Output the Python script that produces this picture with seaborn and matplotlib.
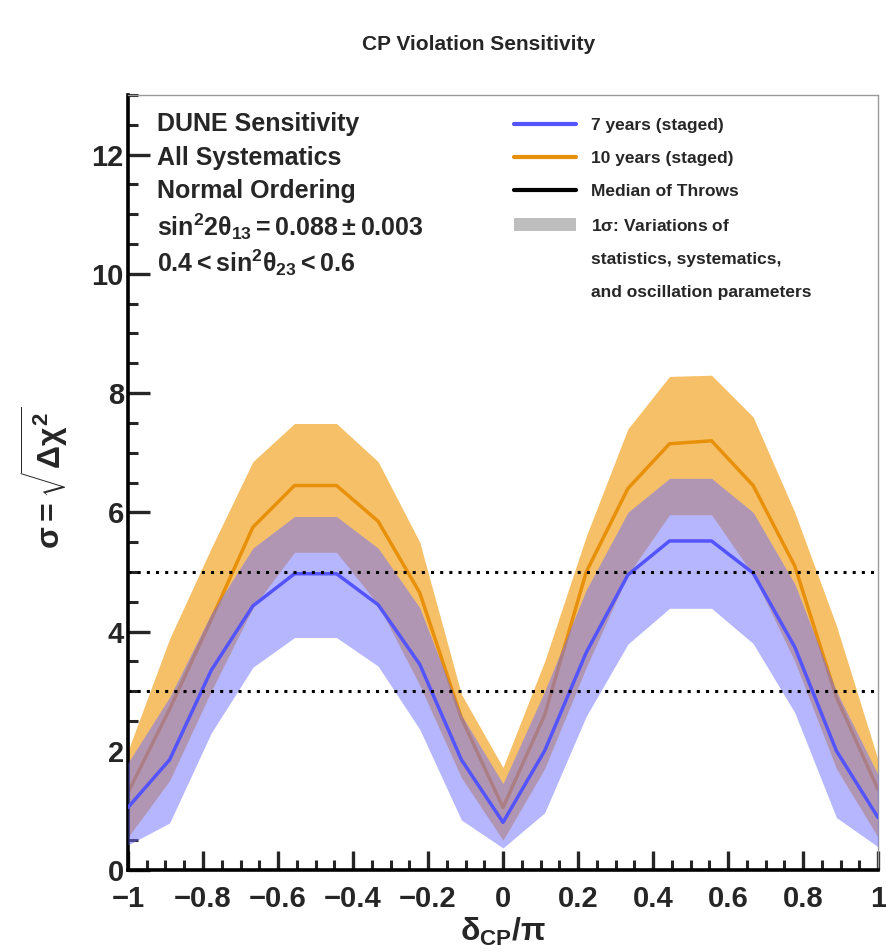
import numpy as np
import pandas as pd
import matplotlib
matplotlib.use('Agg')
import matplotlib.pyplot as plt
import seaborn as sns
from matplotlib.lines import Line2D
from matplotlib.patches import Patch
from matplotlib.ticker import MultipleLocator

# ---------------- data ----------------
delta_cp = [-1.0, -0.889, -0.778, -0.667, -0.556, -0.444, -0.333, -0.222, -0.111, 0.0,
            0.111, 0.222, 0.333, 0.444, 0.556, 0.667, 0.778, 0.889, 1.0]
median_7yr = [1.05, 1.85, 3.35, 4.43, 4.97, 4.97, 4.45, 3.45, 1.85, 0.80,
              2.0, 3.65, 4.95, 5.52, 5.52, 4.98, 3.74, 2.0, 0.88]
low_7yr = [0.42, 0.79, 2.3, 3.4, 3.9, 3.9, 3.42, 2.36, 0.84, 0.37,
           0.96, 2.58, 3.79, 4.39, 4.39, 3.8, 2.64, 0.88, 0.39]
high_7yr = [1.8, 2.9, 4.3, 5.4, 5.93, 5.93, 5.4, 4.4, 2.6, 1.45,
            3.0, 4.7, 6.0, 6.57, 6.57, 6.0, 4.8, 3.0, 1.6]
median_10yr = [1.3, 2.7, 4.2, 5.75, 6.45, 6.45, 5.85, 4.65, 2.55, 1.05,
               2.6, 5.0, 6.4, 7.15, 7.2, 6.45, 5.1, 2.9, 1.35]
low_10yr = [0.55, 1.5, 3.0, 4.4, 5.33, 5.33, 4.45, 3.1, 1.55, 0.5,
            1.7, 3.4, 4.95, 5.96, 5.96, 4.95, 3.5, 1.7, 0.55]
high_10yr = [2.0, 3.88, 5.4, 6.85, 7.49, 7.49, 6.85, 5.5, 2.95, 1.72,
             3.5, 5.6, 7.4, 8.28, 8.3, 7.6, 6.0, 4.1, 1.85]
sigma_levels = [3, 5]

series_labels = ['7 years (staged)', '10 years (staged)']
legend_labels = ['7 years (staged)', '10 years (staged)', 'Median of Throws',
                 r'1$\sigma$: Variations of', 'statistics, systematics,',
                 'and oscillation parameters']
info_lines = ['DUNE Sensitivity', 'All Systematics', 'Normal Ordering',
              r'$\sin^{2}\!2\theta_{13} = 0.088 \pm 0.003$',
              r'$0.4 < \sin^{2}\!\theta_{23} < 0.6$']

# ---------------- style ----------------
sns.set_style('ticks')
plt.rcParams['font.family'] = ['Liberation Sans', 'DejaVu Sans']
plt.rcParams['font.weight'] = 'bold'
plt.rcParams['mathtext.fontset'] = 'custom'
plt.rcParams['mathtext.rm'] = 'Liberation Sans:bold'
plt.rcParams['mathtext.it'] = 'Liberation Sans:bold'
plt.rcParams['mathtext.bf'] = 'Liberation Sans:bold'
plt.rcParams['mathtext.sf'] = 'Liberation Sans:bold'

blue_line = '#5454FF'
blue_band = '#6E6EFF'
orange_line = '#E8900A'
orange_band = '#F6C068'

fig = plt.figure(figsize=(8.87, 9.52), dpi=100)
ax = fig.add_axes([0.1443, 0.0861, 0.8456, 0.8141])

df = pd.DataFrame({
    'delta': delta_cp * 2,
    'sigma': median_7yr + median_10yr,
    'exposure': [series_labels[0]] * len(delta_cp) + [series_labels[1]] * len(delta_cp),
})

# 10 years band + median
ax.fill_between(delta_cp, low_10yr, high_10yr, color=orange_band, lw=0, zorder=1)
sns.lineplot(data=df[df.exposure == series_labels[1]], x='delta', y='sigma',
             color=orange_line, lw=2.5, ax=ax, zorder=2, legend=False)
# 7 years band + median
ax.fill_between(delta_cp, low_7yr, high_7yr, color=blue_band, alpha=0.5, lw=0, zorder=3)
sns.lineplot(data=df[df.exposure == series_labels[0]], x='delta', y='sigma',
             color=blue_line, lw=2.5, ax=ax, zorder=4, legend=False)

for lvl in sigma_levels:
    ax.axhline(lvl, color='black', lw=2.2, linestyle=(0, (1, 2)), zorder=5)

ax.set_xlim(-1, 1)
ax.set_ylim(0, 13)
ax.set_xlabel('')
ax.set_ylabel('')

ax.xaxis.set_major_locator(MultipleLocator(0.2))
ax.xaxis.set_minor_locator(MultipleLocator(0.05))
ax.yaxis.set_major_locator(MultipleLocator(2))
ax.yaxis.set_minor_locator(MultipleLocator(0.5))
ax.set_xticks([-1, -0.8, -0.6, -0.4, -0.2, 0, 0.2, 0.4, 0.6, 0.8, 1])
ax.set_xticklabels(['\u22121', '\u22120.8', '\u22120.6', '\u22120.4', '\u22120.2',
                    '0', '0.2', '0.4', '0.6', '0.8', '1'])

ax.tick_params(axis='x', which='major', direction='in', length=14, width=2.4,
               labelsize=21, pad=11)
ax.tick_params(axis='x', which='minor', direction='in', length=7, width=2.2)
ax.tick_params(axis='y', which='major', direction='in', length=16, width=2.4,
               labelsize=21, pad=3)
ax.tick_params(axis='y', which='minor', direction='in', length=7, width=2.2)
ax.tick_params(top=False, right=False, which='both')

for side in ['left', 'bottom']:
    ax.spines[side].set_linewidth(2.6)
    ax.spines[side].set_color('black')
for side in ['top', 'right']:
    ax.spines[side].set_linewidth(1.0)
    ax.spines[side].set_color('#9a9a9a')
    ax.spines[side].set_visible(True)

# info text
info_y = [0.963, 0.919, 0.876, 0.830, 0.784]
for txt, yy in zip(info_lines, info_y):
    ax.text(0.039, yy, txt, transform=ax.transAxes, fontsize=18, fontweight='bold',
            va='center', ha='left', zorder=6)

# legend
handles = [Line2D([], [], color=blue_line, lw=3),
           Line2D([], [], color=orange_line, lw=3),
           Line2D([], [], color='black', lw=3),
           Patch(facecolor='#BEBEBE', edgecolor='none'),
           Line2D([], [], color='none'),
           Line2D([], [], color='none')]
leg = ax.legend(handles, legend_labels, loc='upper left', bbox_to_anchor=(0.505, 0.98),
                frameon=False, fontsize=12.5, handlelength=3.6, handletextpad=0.85,
                labelspacing=1.05, borderaxespad=0)
for t in leg.get_texts():
    t.set_fontweight('bold')

# titles / axis labels
fig.text(0.54, 0.953, 'CP Violation Sensitivity', ha='center', va='center',
         fontsize=15, fontweight='bold')
fig.text(0.567, 0.021, r'$\delta_{CP}/\pi$', ha='center', va='center', fontsize=23)
fig.text(0.05, 0.498, r'$\sigma = \sqrt{\Delta\chi^{2}}$', ha='center', va='center',
         fontsize=23, rotation=90)

fig.savefig('out.png', dpi=100)
